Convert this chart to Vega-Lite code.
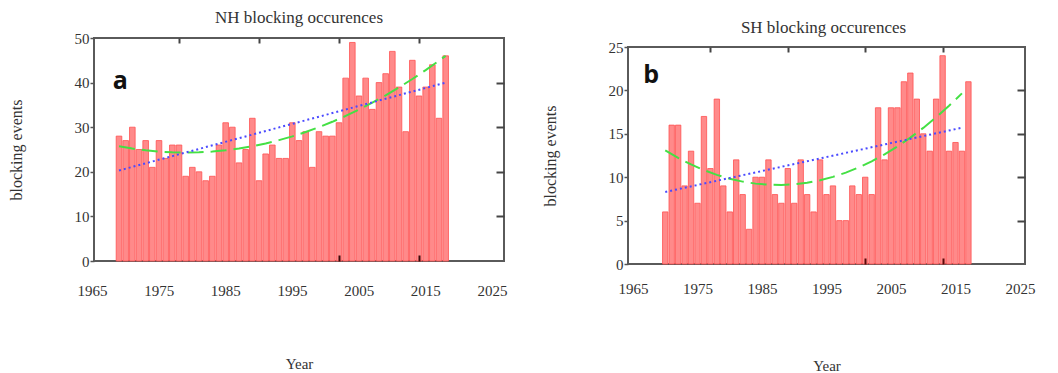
{
  "$schema": "https://vega.github.io/schema/vega-lite/v6.json",
  "padding": {"left": 7, "top": 8, "right": 0, "bottom": 0},
  "datasets": {
    "nh": [
      {"year": 1968, "events": 28}, {"year": 1969, "events": 27}, {"year": 1970, "events": 30}, {"year": 1971, "events": 25}, {"year": 1972, "events": 27},
      {"year": 1973, "events": 21}, {"year": 1974, "events": 27}, {"year": 1975, "events": 23}, {"year": 1976, "events": 26}, {"year": 1977, "events": 26},
      {"year": 1978, "events": 19}, {"year": 1979, "events": 21}, {"year": 1980, "events": 20}, {"year": 1981, "events": 18}, {"year": 1982, "events": 19},
      {"year": 1983, "events": 26}, {"year": 1984, "events": 31}, {"year": 1985, "events": 30}, {"year": 1986, "events": 22}, {"year": 1987, "events": 25},
      {"year": 1988, "events": 32}, {"year": 1989, "events": 18}, {"year": 1990, "events": 24}, {"year": 1991, "events": 26}, {"year": 1992, "events": 23},
      {"year": 1993, "events": 23}, {"year": 1994, "events": 31}, {"year": 1995, "events": 27}, {"year": 1996, "events": 29}, {"year": 1997, "events": 21},
      {"year": 1998, "events": 29}, {"year": 1999, "events": 28}, {"year": 2000, "events": 28}, {"year": 2001, "events": 31}, {"year": 2002, "events": 41},
      {"year": 2003, "events": 49}, {"year": 2004, "events": 37}, {"year": 2005, "events": 41}, {"year": 2006, "events": 34}, {"year": 2007, "events": 40},
      {"year": 2008, "events": 42}, {"year": 2009, "events": 47}, {"year": 2010, "events": 39}, {"year": 2011, "events": 29}, {"year": 2012, "events": 45},
      {"year": 2013, "events": 37}, {"year": 2014, "events": 39}, {"year": 2015, "events": 44}, {"year": 2016, "events": 32}, {"year": 2017, "events": 46}
    ],
    "nhGreen": [
      {"year": 1968, "v": 25.73}, {"year": 1970, "v": 25.21}, {"year": 1972, "v": 24.81}, {"year": 1974, "v": 24.53}, {"year": 1976, "v": 24.36},
      {"year": 1978, "v": 24.3}, {"year": 1980, "v": 24.36}, {"year": 1982, "v": 24.53}, {"year": 1984, "v": 24.81}, {"year": 1986, "v": 25.21},
      {"year": 1988, "v": 25.73}, {"year": 1990, "v": 26.35}, {"year": 1992, "v": 27.1}, {"year": 1994, "v": 27.95}, {"year": 1996, "v": 28.92},
      {"year": 1998, "v": 30.01}, {"year": 2000, "v": 31.21}, {"year": 2002, "v": 32.52}, {"year": 2004, "v": 33.95}, {"year": 2006, "v": 35.49},
      {"year": 2008, "v": 37.14}, {"year": 2010, "v": 38.91}, {"year": 2012, "v": 40.8}, {"year": 2014, "v": 42.79}, {"year": 2016, "v": 44.91},
      {"year": 2017, "v": 46.0}
    ],
    "nhBlue": [{"year": 1968, "v": 20.3}, {"year": 2017, "v": 40.0}],
    "sh": [
      {"year": 1970, "events": 6}, {"year": 1971, "events": 16}, {"year": 1972, "events": 16}, {"year": 1973, "events": 9}, {"year": 1974, "events": 13},
      {"year": 1975, "events": 7}, {"year": 1976, "events": 17}, {"year": 1977, "events": 11}, {"year": 1978, "events": 19}, {"year": 1979, "events": 9},
      {"year": 1980, "events": 6}, {"year": 1981, "events": 12}, {"year": 1982, "events": 8}, {"year": 1983, "events": 4}, {"year": 1984, "events": 10},
      {"year": 1985, "events": 10}, {"year": 1986, "events": 12}, {"year": 1987, "events": 8}, {"year": 1988, "events": 7}, {"year": 1989, "events": 11},
      {"year": 1990, "events": 7}, {"year": 1991, "events": 12}, {"year": 1992, "events": 8}, {"year": 1993, "events": 6}, {"year": 1994, "events": 12},
      {"year": 1995, "events": 8}, {"year": 1996, "events": 9}, {"year": 1997, "events": 5}, {"year": 1998, "events": 5}, {"year": 1999, "events": 9},
      {"year": 2000, "events": 8}, {"year": 2001, "events": 10}, {"year": 2002, "events": 8}, {"year": 2003, "events": 18}, {"year": 2004, "events": 12},
      {"year": 2005, "events": 18}, {"year": 2006, "events": 18}, {"year": 2007, "events": 21}, {"year": 2008, "events": 22}, {"year": 2009, "events": 19},
      {"year": 2010, "events": 15}, {"year": 2011, "events": 13}, {"year": 2012, "events": 19}, {"year": 2013, "events": 24}, {"year": 2014, "events": 13},
      {"year": 2015, "events": 14}, {"year": 2016, "events": 13}, {"year": 2017, "events": 21}
    ],
    "shGreen": [
      {"year": 1970, "v": 13.08}, {"year": 1972, "v": 12.22}, {"year": 1974, "v": 11.47}, {"year": 1976, "v": 10.82}, {"year": 1978, "v": 10.27},
      {"year": 1980, "v": 9.83}, {"year": 1982, "v": 9.49}, {"year": 1984, "v": 9.26}, {"year": 1986, "v": 9.13}, {"year": 1988, "v": 9.1},
      {"year": 1990, "v": 9.18}, {"year": 1992, "v": 9.36}, {"year": 1994, "v": 9.65}, {"year": 1996, "v": 10.04}, {"year": 1998, "v": 10.53},
      {"year": 2000, "v": 11.13}, {"year": 2002, "v": 11.83}, {"year": 2004, "v": 12.64}, {"year": 2006, "v": 13.55}, {"year": 2008, "v": 14.56},
      {"year": 2010, "v": 15.68}, {"year": 2012, "v": 16.9}, {"year": 2014, "v": 18.23}, {"year": 2016, "v": 19.66}
    ],
    "shBlue": [{"year": 1970, "v": 8.3}, {"year": 2016, "v": 15.7}]
  },
  "spacing": 33,
  "hconcat": [
    {
      "width": 410,
      "height": 223,
      "title": {"text": "NH blocking occurences", "offset": 4},
      "layer": [
        {
          "data": {"name": "nh"},
          "mark": {"type": "bar", "size": 5.6, "fill": "#ff8a8a", "stroke": "#ff5050", "strokeWidth": 0.8},
          "encoding": {
            "x": {"field": "year", "type": "quantitative", "scale": {"domain": [1965, 2025], "nice": false, "zero": false},
              "axis": {"orient": "bottom", "values": [1965, 1975, 1985, 1995, 2005, 2015, 2025], "format": "d", "tickSize": 0, "labelPadding": 22, "labelOffset": -7, "labelFlush": false, "title": "Year", "titlePadding": 58, "titleFontSize": 15}},
            "y": {"field": "events", "type": "quantitative", "scale": {"domain": [0, 50], "nice": false},
              "axis": {"orient": "left", "values": [0, 10, 20, 30, 40, 50], "tickSize": 4, "labelPadding": 1, "labelFlush": false, "title": "blocking events", "titlePadding": 50, "titleFontSize": 16}}
          }
        },
        {
          "data": {"name": "nhGreen"},
          "mark": {"type": "line", "color": "#44e044", "strokeWidth": 2, "strokeDash": [16, 7]},
          "encoding": {
            "x": {"field": "year", "type": "quantitative", "axis": {"orient": "top", "values": [1977, 1989, 2001, 2013], "labels": false, "tickSize": -5, "title": null, "tickColor": "#444", "tickWidth": 2, "zindex": 2}},
            "y": {"field": "v", "type": "quantitative", "axis": {"orient": "right", "values": [10, 20, 30, 40], "labels": false, "tickSize": -8, "title": null, "tickColor": "#444", "tickWidth": 2, "zindex": 2}}
          }
        },
        {
          "data": {"name": "nhBlue"},
          "mark": {"type": "line", "color": "#4a4aff", "strokeWidth": 2, "strokeDash": [2, 3]},
          "encoding": {
            "x": {"field": "year", "type": "quantitative", "axis": {"orient": "bottom", "values": [2001, 2013], "labels": false, "tickSize": -6, "title": null, "tickColor": "#3a0a0a", "tickWidth": 2, "zindex": 2}},
            "y": {"field": "v", "type": "quantitative", "axis": null}
          }
        },
        {
          "data": {"values": [{}]},
          "mark": {"type": "text", "text": "a", "font": "Open Sans", "fontWeight": "bold", "fontSize": 25, "align": "left", "baseline": "middle", "color": "#111"},
          "encoding": {"x": {"datum": 1967.05, "axis": null}, "y": {"datum": 40.3, "axis": null}}
        }
      ],
      "resolve": {"axis": {"x": "independent", "y": "independent"}}
    },
    {
      "title": {"text": "SH blocking occurences", "offset": 1, "anchor": "middle", "dx": 35},
      "spacing": 0,
      "vconcat": [
        {
          "width": 397,
          "height": 1,
          "view": {"stroke": null},
          "data": {"values": [{}]},
          "mark": {"type": "text", "text": "", "fontSize": 1},
          "encoding": {}
        },
        {
          "width": 397,
          "height": 217,
          "layer": [
            {
              "data": {"name": "sh"},
              "mark": {"type": "bar", "size": 5.4, "fill": "#ff8a8a", "stroke": "#ff5050", "strokeWidth": 0.8},
              "encoding": {
                "x": {"field": "year", "type": "quantitative", "scale": {"domain": [1965, 2025], "nice": false, "zero": false},
                  "axis": {"orient": "bottom", "values": [1965, 1975, 1985, 1995, 2005, 2015, 2025], "format": "d", "tickSize": 0, "labelPadding": 17, "labelOffset": 0, "labelFlush": false, "title": "Year", "titlePadding": 62, "titleFontSize": 15}},
                "y": {"field": "events", "type": "quantitative", "scale": {"domain": [0, 25], "nice": false},
                  "axis": {"orient": "left", "values": [0, 5, 10, 15, 20, 25], "tickSize": 4, "labelPadding": 1, "labelFlush": false, "title": "blocking events", "titlePadding": 50, "titleFontSize": 16}}
              }
            },
            {
              "data": {"name": "shGreen"},
              "mark": {"type": "line", "color": "#44e044", "strokeWidth": 2, "strokeDash": [16, 7]},
              "encoding": {
                "x": {"field": "year", "type": "quantitative", "axis": {"orient": "top", "values": [1977, 1989, 2001, 2013], "labels": false, "tickSize": -5, "title": null, "tickColor": "#444", "tickWidth": 2, "zindex": 2}},
                "y": {"field": "v", "type": "quantitative", "axis": {"orient": "right", "values": [5, 10, 15, 20], "labels": false, "tickSize": -8, "title": null, "tickColor": "#444", "tickWidth": 2, "zindex": 2}}
              }
            },
            {
              "data": {"name": "shBlue"},
              "mark": {"type": "line", "color": "#4a4aff", "strokeWidth": 2, "strokeDash": [2, 3]},
              "encoding": {
                "x": {"field": "year", "type": "quantitative", "axis": {"orient": "bottom", "values": [2001, 2013], "labels": false, "tickSize": -6, "title": null, "tickColor": "#5a0a0a", "tickWidth": 2, "zindex": 2}},
                "y": {"field": "v", "type": "quantitative", "axis": null}
              }
            },
            {
              "data": {"values": [{}]},
              "mark": {"type": "text", "text": "b", "font": "Open Sans", "fontWeight": "bold", "fontSize": 25, "align": "left", "baseline": "middle", "color": "#111"},
              "encoding": {"x": {"datum": 1966.6, "axis": null}, "y": {"datum": 21.8, "axis": null}}
            }
          ],
          "resolve": {"axis": {"x": "independent", "y": "independent"}}
        }
      ]
    }
  ],
  "config": {
    "view": {"stroke": "#5a5a5a", "strokeWidth": 2},
    "title": {"font": "Liberation Serif", "fontSize": 17, "fontWeight": "normal", "color": "#333"},
    "axis": {"grid": false, "domain": false, "labelFont": "Liberation Serif", "labelFontSize": 15, "labelColor": "#333", "titleFont": "Liberation Serif", "titleFontWeight": "normal", "titleColor": "#333", "tickColor": "#555", "tickWidth": 1.5}
  }
}
